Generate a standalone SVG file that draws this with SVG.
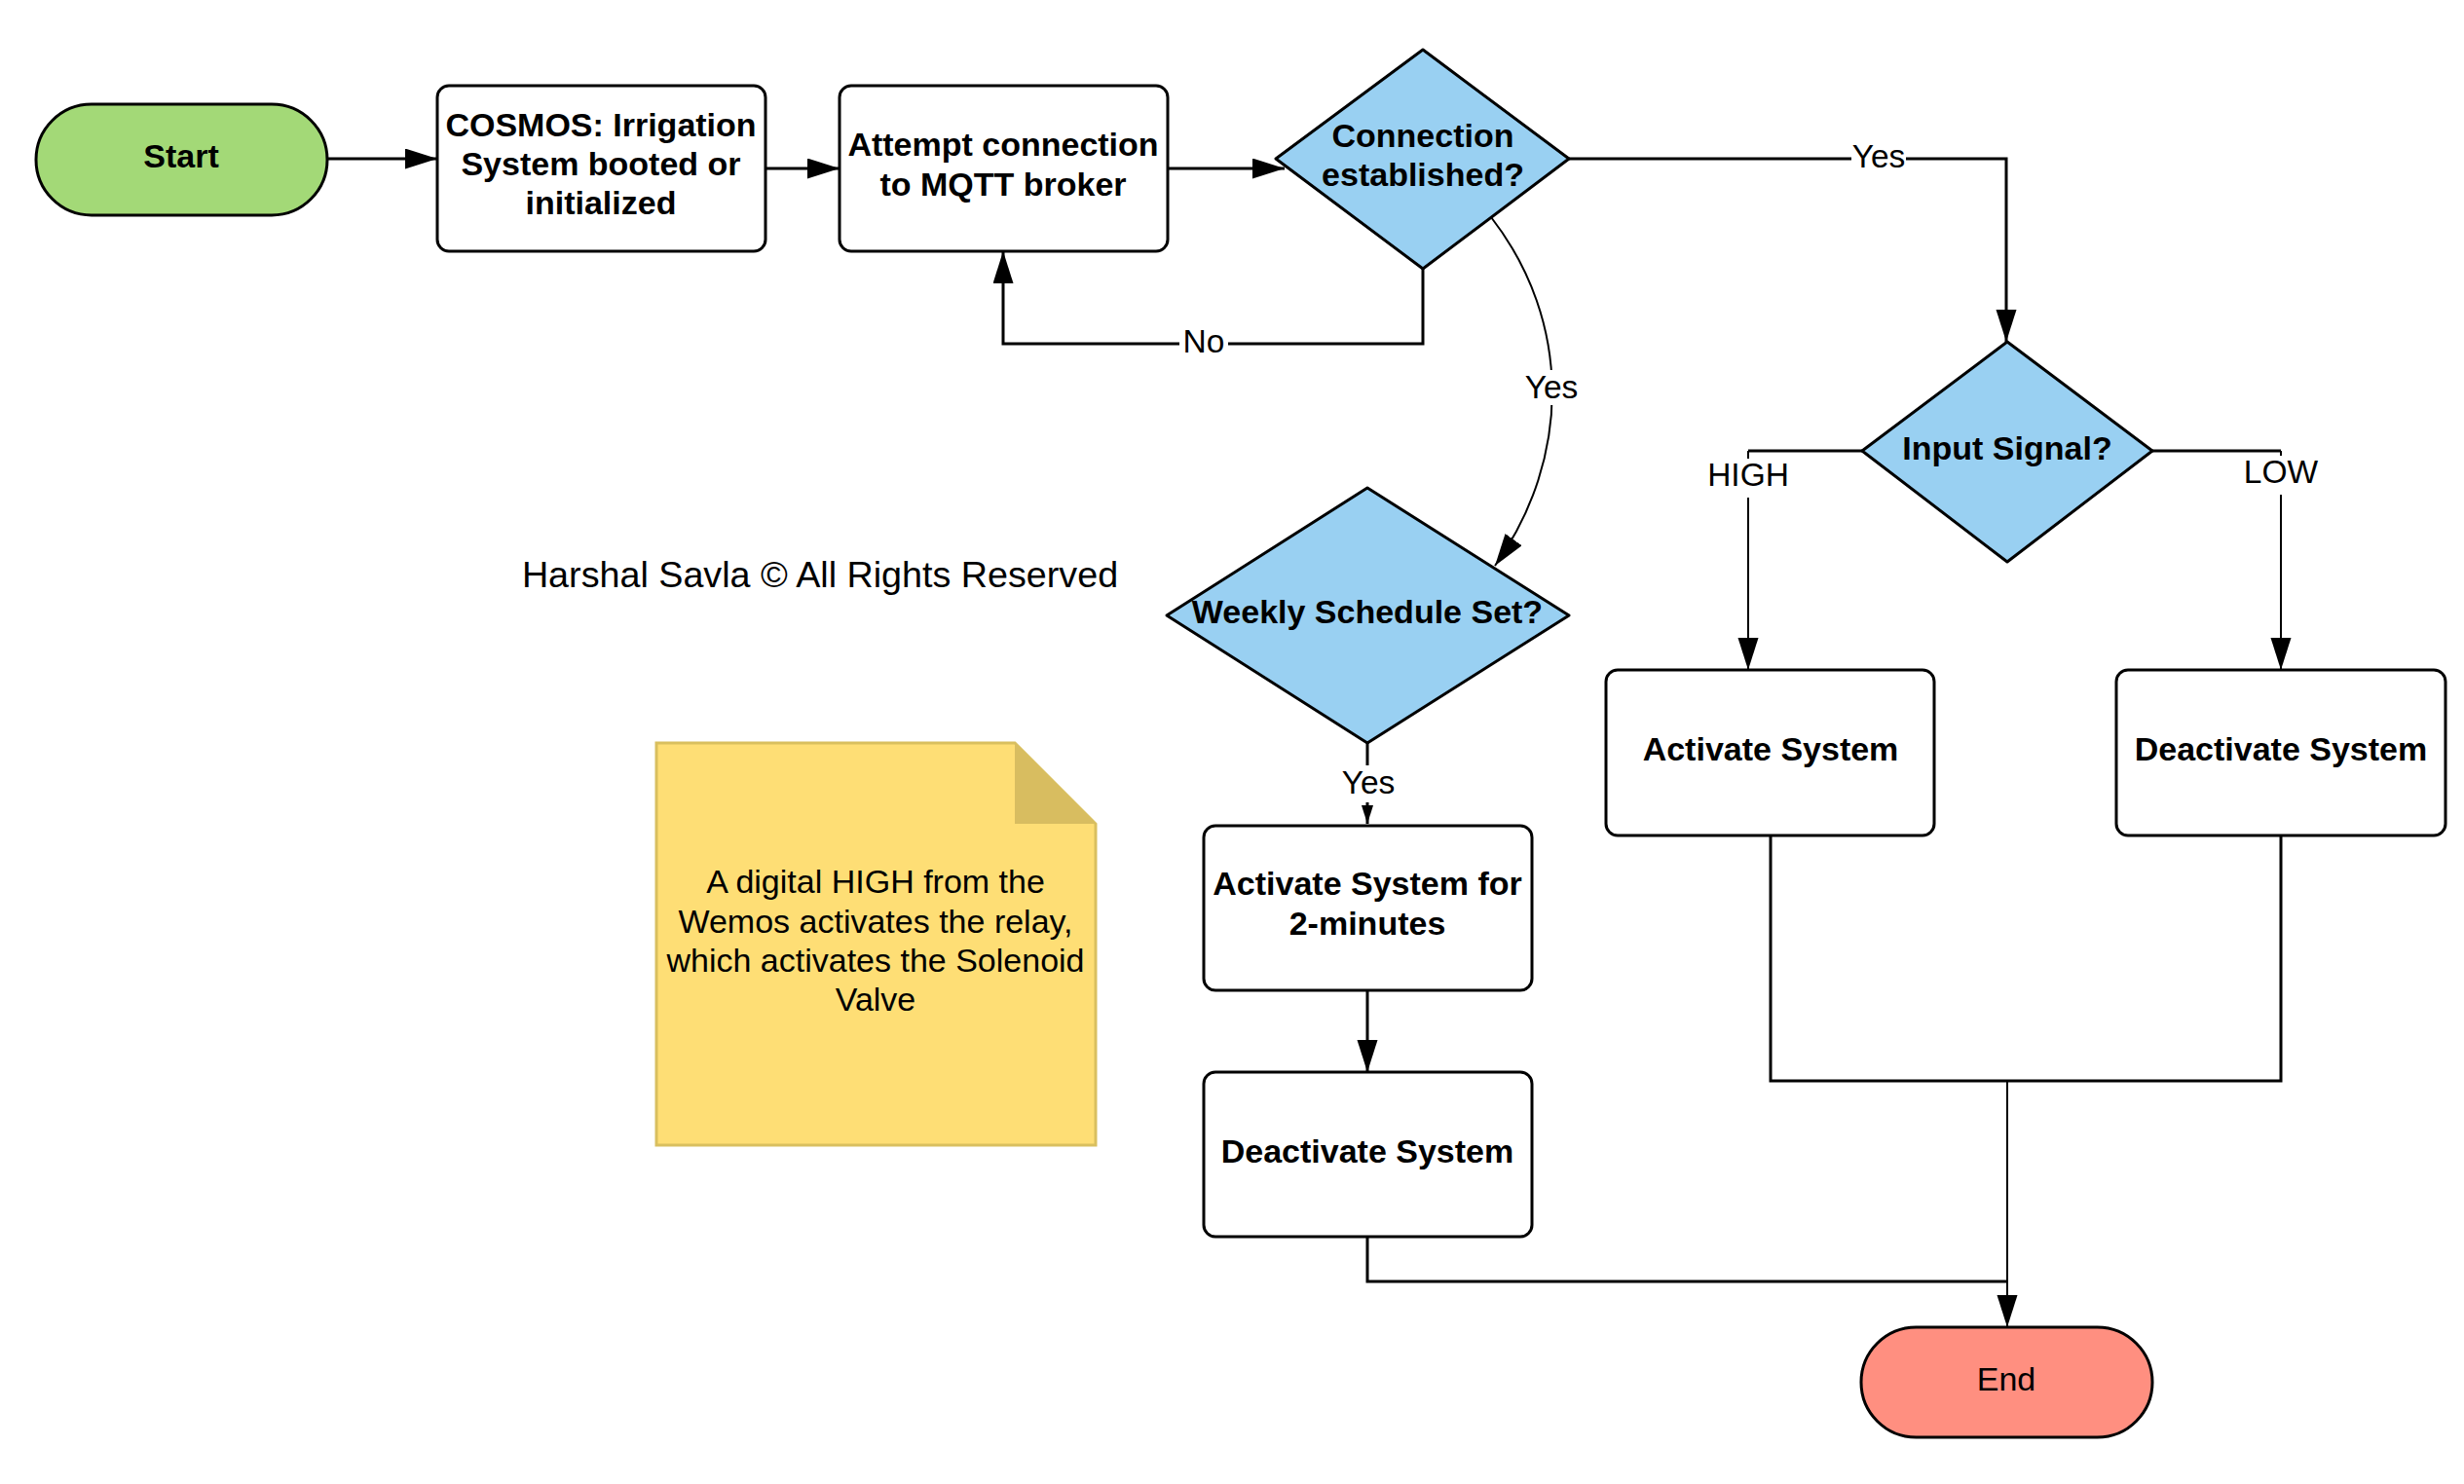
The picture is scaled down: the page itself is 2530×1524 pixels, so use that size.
<svg xmlns="http://www.w3.org/2000/svg" width="2530" height="1524" viewBox="0 0 2530 1524">
<defs>
<marker id="arr" markerUnits="userSpaceOnUse" markerWidth="34" markerHeight="22" refX="33" refY="10.5" orient="auto">
<path d="M0,0 L33,10.5 L0,21 z" fill="#000"/>
</marker>
<marker id="arrS" markerUnits="userSpaceOnUse" markerWidth="20" markerHeight="12" refX="19" refY="6" orient="auto">
<path d="M0,0 L19,6 L0,12 z" fill="#000"/>
</marker>
</defs>
<style>
.shape{stroke:#000;stroke-width:3;stroke-linejoin:round}
.box{fill:#fff}
.dia{fill:#99D0F2}
.b{font-family:"Liberation Sans",Arial,sans-serif;font-weight:bold;font-size:34px;fill:#000;text-anchor:middle}
.r{font-family:"Liberation Sans",Arial,sans-serif;font-size:34px;fill:#000;text-anchor:middle}
.lbl{font-family:"Liberation Sans",Arial,sans-serif;font-size:33.5px;fill:#000;text-anchor:middle}
.c{fill:none;stroke:#000;stroke-width:3}
.t{fill:none;stroke:#000;stroke-width:2}
.bg{fill:#fff}
</style>
<rect width="2530" height="1524" fill="#fff"/>

<g id="connectors">
<path class="c" d="M336,163 H449" marker-end="url(#arr)"/>
<path class="c" d="M786,173 H862" marker-end="url(#arr)"/>
<path class="c" d="M1199,173 H1319" marker-end="url(#arr)"/>
<path class="c" d="M1461,276 V353 H1030 V258" marker-end="url(#arr)"/>
<path class="c" d="M1611,163 H2060 V351" marker-end="url(#arr)"/>
<path class="t" d="M1531,223 C1614,330 1614,470 1535,581" marker-end="url(#arr)"/>
<path class="c" d="M1912,463 H1795"/>
<path class="t" d="M1795,463 V688" marker-end="url(#arr)"/>
<path class="c" d="M2210,463 H2342"/>
<path class="t" d="M2342,463 V688" marker-end="url(#arr)"/>
<path class="c" d="M1404,763 V846" marker-end="url(#arrS)"/>
<path class="c" d="M1404,1017 V1101" marker-end="url(#arr)"/>
<path class="c" d="M1818,858 V1110 H2342 V858"/>
<path class="t" d="M2061,1110 V1363" marker-end="url(#arr)"/>
<path class="c" d="M1404,1270 V1316 H2061"/>
<rect class="bg" x="1211" y="334" width="50" height="36"/>
<text class="lbl" x="1236" y="362">No</text>
<rect class="bg" x="1901" y="142" width="56" height="36"/>
<text class="lbl" x="1929" y="172">Yes</text>
<rect class="bg" x="1564" y="380" width="58" height="36"/>
<text class="lbl" x="1593" y="409">Yes</text>
<rect class="bg" x="1750" y="471" width="90" height="40"/>
<text class="lbl" x="1795" y="499">HIGH</text>
<rect class="bg" x="2302" y="468" width="80" height="40"/>
<text class="lbl" x="2342" y="496">LOW</text>
<rect class="bg" x="1375" y="786" width="60" height="38"/>
<text class="lbl" x="1405" y="815">Yes</text>
</g>

<g id="start">
<rect class="shape" x="37" y="107" width="299" height="114" rx="57" ry="57" fill="#A3D977"/>
<text class="b" x="186" y="172">Start</text>
</g>

<g id="cosmos">
<rect class="shape box" x="449" y="88" width="337" height="170" rx="12"/>
<text class="b" x="617" y="140">COSMOS: Irrigation</text>
<text class="b" x="617" y="180">System booted or</text>
<text class="b" x="617" y="220">initialized</text>
</g>

<g id="attempt">
<rect class="shape box" x="862" y="88" width="337" height="170" rx="12"/>
<text class="b" x="1030" y="160">Attempt connection</text>
<text class="b" x="1030" y="201">to MQTT broker</text>
</g>

<g id="connection">
<polygon class="shape dia" points="1461,51 1611,163 1461,276 1310,163"/>
<text class="b" x="1461" y="151">Connection</text>
<text class="b" x="1461" y="191">established?</text>
</g>

<g id="input">
<polygon class="shape dia" points="2061,351 2210,463 2061,577 1912,463"/>
<text class="b" x="2061" y="472">Input Signal?</text>
</g>

<g id="weekly">
<polygon class="shape dia" points="1404,501 1611,632 1404,763 1198,632"/>
<text class="b" x="1404" y="640">Weekly Schedule Set?</text>
</g>

<g id="activate">
<rect class="shape box" x="1649" y="688" width="337" height="170" rx="12"/>
<text class="b" x="1818" y="781">Activate System</text>
</g>

<g id="deactivate-right">
<rect class="shape box" x="2173" y="688" width="338" height="170" rx="12"/>
<text class="b" x="2342" y="781">Deactivate System</text>
</g>

<g id="activate-2min">
<rect class="shape box" x="1236" y="848" width="337" height="169" rx="12"/>
<text class="b" x="1404" y="919">Activate System for</text>
<text class="b" x="1404" y="960">2-minutes</text>
</g>

<g id="deactivate-mid">
<rect class="shape box" x="1236" y="1101" width="337" height="169" rx="12"/>
<text class="b" x="1404" y="1194">Deactivate System</text>
</g>

<g id="end">
<rect class="shape" x="1911" y="1363" width="299" height="113" rx="56.5" ry="56.5" fill="#FF8F80"/>
<text class="r" x="2060" y="1428">End</text>
</g>

<g id="note">
<path d="M674,763 H1042 L1125,846 V1176 H674 Z" fill="#FEDE75" stroke="#D9BF5F" stroke-width="3"/>
<path d="M1042,763 L1125,846 H1042 Z" fill="#D8BD60"/>
<text class="r" x="899" y="917">A digital HIGH from the</text>
<text class="r" x="899" y="958">Wemos activates the relay,</text>
<text class="r" x="899" y="998">which activates the Solenoid</text>
<text class="r" x="899" y="1038">Valve</text>
</g>

<g id="copyright">
<text font-family="Liberation Sans, Arial, sans-serif" font-size="37.7" text-anchor="middle" x="842" y="603" fill="#000">Harshal Savla © All Rights Reserved</text>
</g>
</svg>
